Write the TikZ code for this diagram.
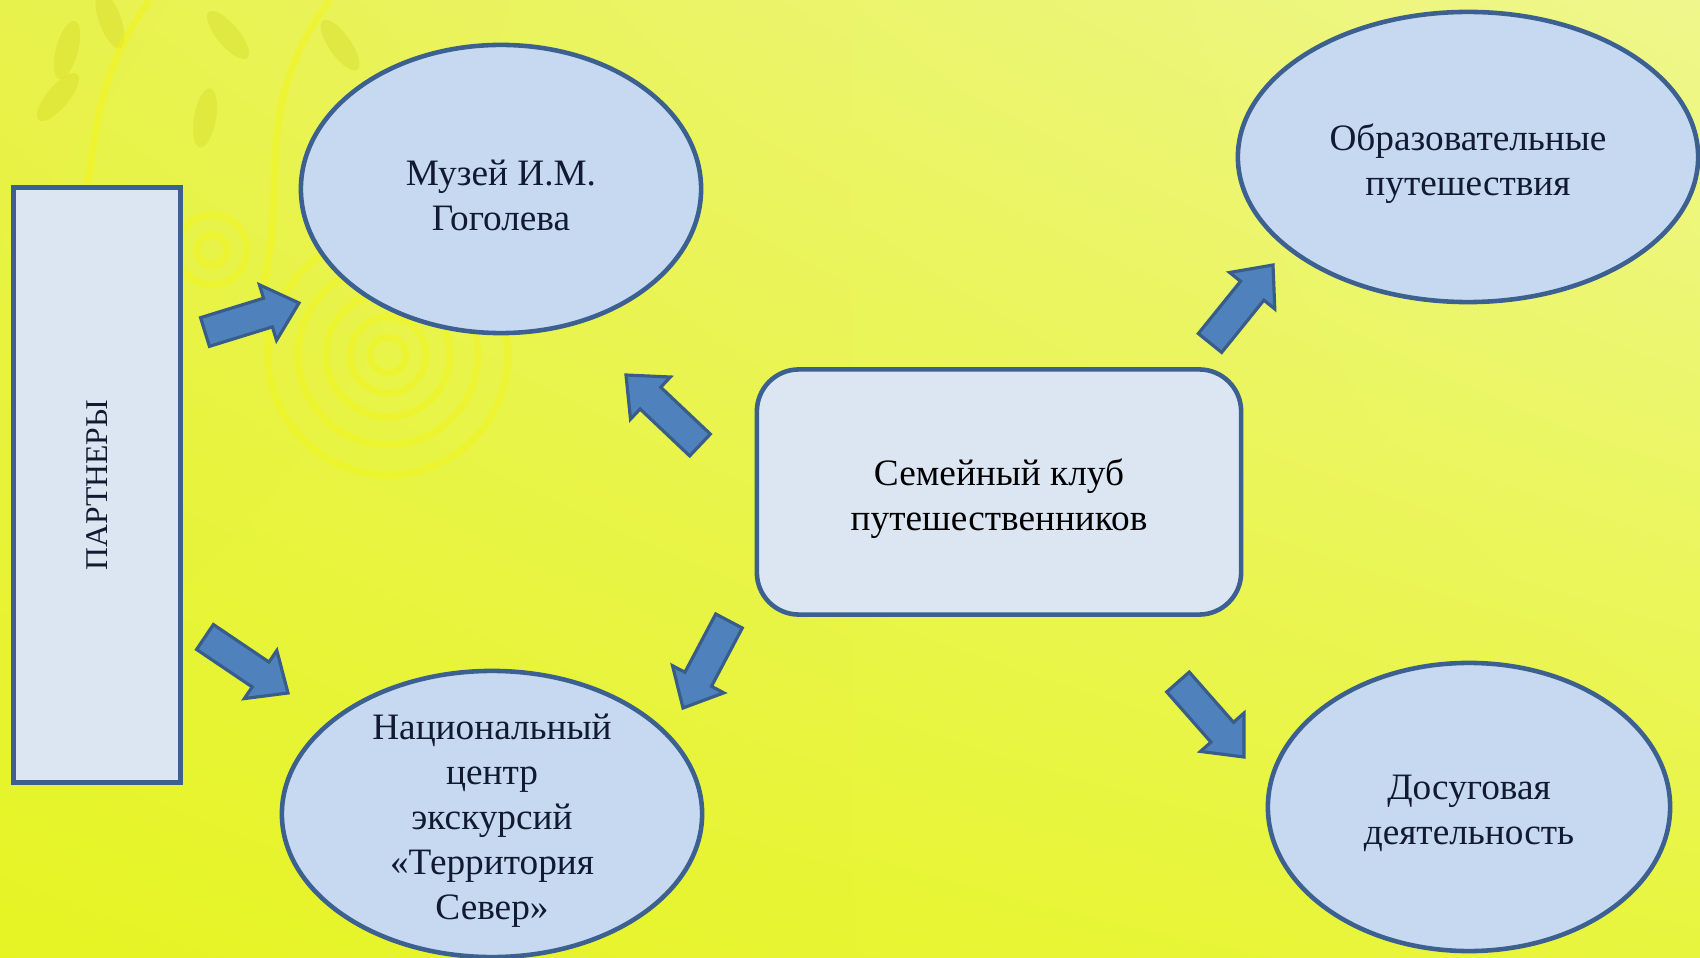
\documentclass[tikz,border=0pt]{standalone}
\usepackage{fontspec}
\setmainfont{Liberation Serif}
\usetikzlibrary{shapes.geometric}
\usetikzlibrary{shadings}
\usetikzlibrary{calc}

\definecolor{bubblefill}{HTML}{C6D9F1}
\definecolor{boxfill}{HTML}{DCE6F2}
\definecolor{edgeblue}{HTML}{3C6090}
\definecolor{arrowfill}{HTML}{4F81BD}
\definecolor{arrowedge}{HTML}{385D8A}
\definecolor{inkblue}{HTML}{111A30}
\definecolor{bgul}{HTML}{E8F24C}
\definecolor{bgur}{HTML}{EFF78C}
\definecolor{bgll}{HTML}{E6F424}
\definecolor{bglr}{HTML}{E8F53E}
\definecolor{swirl}{HTML}{F7F700}
\definecolor{leaf}{HTML}{D2D820}

\tikzset{
    bubble/.style={ellipse, draw=edgeblue, fill=bubblefill, line width=1.3pt, inner sep=0pt},
    clubbox/.style={rectangle, rounded corners=0.42cm, draw=edgeblue, fill=boxfill,
        line width=1.3pt},
    inside/.style={align=center, text=inkblue, yshift=-1.8pt,
        font=\fontsize{10.6}{12.8}\selectfont},
    partnerbox/.style={rectangle, draw=edgeblue, fill=boxfill, line width=1.4pt,
        text=inkblue, font=\fontsize{9}{11}\selectfont},
    bigarrow/.style={draw=arrowedge, fill=arrowfill, line width=0.9pt, line join=miter}
}

% block arrow from #1 (tail) to #2 (tip)
\newcommand{\blockarrow}[2]{%
    \coordinate (#1-n) at ($(#1)!0.67!(#2)$);
    \draw[bigarrow] ($(#1)!0.15cm!90:(#2)$) -- ($(#1-n)!0.15cm!90:(#2)$)
        -- ($(#1-n)!0.29cm!90:(#2)$) -- (#2) -- ($(#1-n)!0.29cm!-90:(#2)$)
        -- ($(#1-n)!0.15cm!-90:(#2)$) -- ($(#1)!0.15cm!-90:(#1-n)$) -- cycle;
}

\begin{document}
\begin{tikzpicture}[x=0.01cm, y=-0.01cm]

    % Background
    \useasboundingbox (0,0) rectangle (1700,958);
    \shade[upper left=bgul, upper right=bgur, lower left=bgll, lower right=bglr]
        (0,0) rectangle (1700,958);
    \foreach \x/\y/\a in {67/50/-15, 205/118/-10, 228/35/40, 340/45/35, 58/97/-40, 110/20/20} {
        \fill[leaf, opacity=0.35, rotate around={\a:(\x,\y)}] (\x,\y) ellipse (11 and 30);
    }
    \draw[swirl, opacity=0.35, line width=2pt] (30,330) .. controls (120,220) and (60,120) .. (150,0);
    \draw[swirl, opacity=0.35, line width=2pt] (250,330) .. controls (300,200) and (240,120) .. (330,0);
    \foreach \r in {18, 38, 62, 90, 120} {
        \draw[swirl, opacity=0.3, line width=2pt] (388,355) circle (\r);
    }
    \foreach \r in {15, 35} {
        \draw[swirl, opacity=0.3, line width=2pt] (212,250) circle (\r);
    }

    % Nodes
    \node[partnerbox, rotate=90, minimum width=5.95cm, minimum height=1.66cm]
        (partners) at (97,485) {ПАРТНЕРЫ};
    \node[bubble, minimum width=4cm, minimum height=2.88cm,
        label={[inside]center:{Музей И.М.\\Гоголева}}] (museum) at (501,189) {};
    \node[bubble, minimum width=4.2cm, minimum height=2.86cm,
        label={[inside]center:{Национальный\\центр\\экскурсий\\«Территория\\Север»}}]
        (national) at (492,814) {};
    \node[clubbox, minimum width=4.84cm, minimum height=2.45cm,
        label={[inside, text=black]center:{Семейный клуб\\путешественников}}]
        (club) at (999,492) {};
    \node[bubble, minimum width=4.6cm, minimum height=2.9cm,
        label={[inside]center:{Образовательные\\путешествия}}] (edu) at (1468,157) {};
    \node[bubble, minimum width=4.02cm, minimum height=2.88cm,
        label={[inside]center:{Досуговая\\деятельность}}] (leisure) at (1469,807) {};

    % Arrow ends
    \coordinate (pm0) at (205,332);  \coordinate (pm1) at (299,303);
    \coordinate (pn0) at (205,637);  \coordinate (pn1) at (288,693);
    \coordinate (cm0) at (700,445);  \coordinate (cm1) at (626,375);
    \coordinate (cn0) at (729,621);  \coordinate (cn1) at (683,708);
    \coordinate (ce0) at (1210,343); \coordinate (ce1) at (1273,265);
    \coordinate (cl0) at (1178,682); \coordinate (cl1) at (1244,757);

    % Arrows
    \blockarrow{pm0}{pm1}
    \blockarrow{pn0}{pn1}
    \blockarrow{cm0}{cm1}
    \blockarrow{cn0}{cn1}
    \blockarrow{ce0}{ce1}
    \blockarrow{cl0}{cl1}

\end{tikzpicture}
\end{document}
